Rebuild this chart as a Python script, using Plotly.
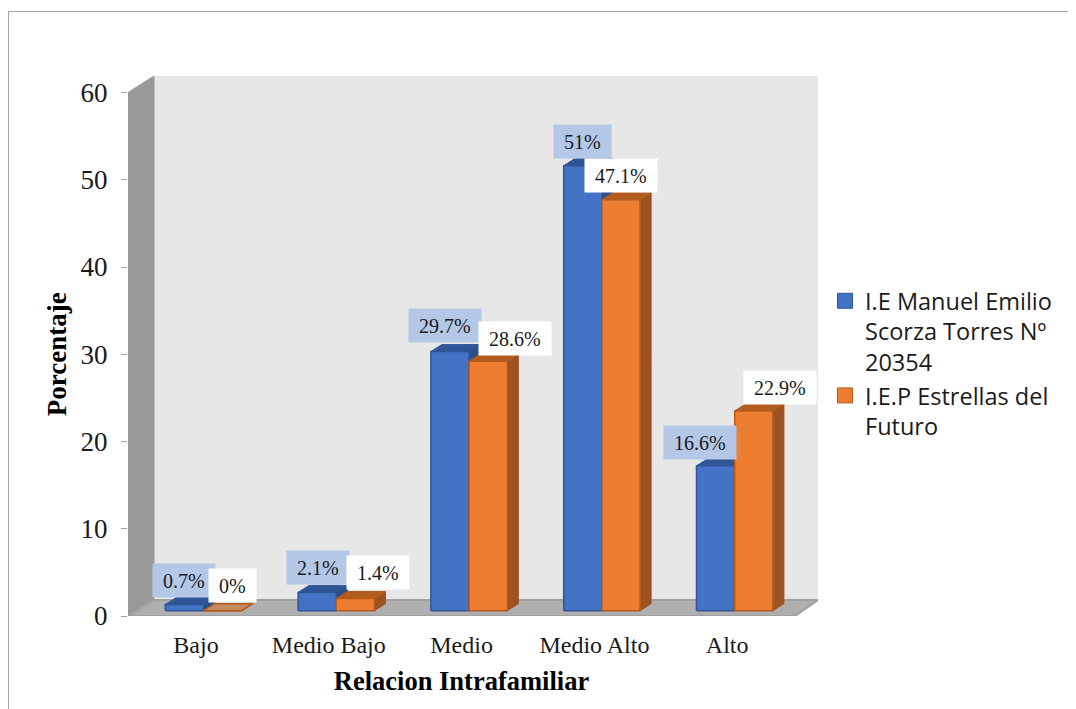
import plotly.graph_objects as go

categories = ["Bajo", "Medio Bajo", "Medio", "Medio Alto", "Alto"]
school_a = [0.7, 2.1, 29.7, 51, 16.6]
school_b = [0, 1.4, 28.6, 47.1, 22.9]
name_a = "I.E Manuel Emilio<br>Scorza Torres Nº<br>20354"
name_b = "I.E.P Estrellas del<br>Futuro"
y_ticks = [0, 10, 20, 30, 40, 50, 60]

# label nudges in pixels, hand placed in the reference
label_dx_a = [0, 1, -5.5, 0, -15.5]
label_dx_b = [10, 23, 27, 0, 26]
label_dy_a = [24, 25, 26, 24, 23]
label_dy_b = [25, 25.5, 23, 24, 23]

OFF = 8                                 # default page margin of the html body
W, H = 1076 - OFF, 709 - OFF
L, R, T, B = 128 - OFF, 818 - OFF, 76 - OFF, 616 - OFF   # drawing box in pixels
FRONT_R = 795 - OFF                     # end of the front edge of the floor
FRONT_T = 92.5 - OFF                    # height of 60 on the front edge
CAT_PX = 132.8                          # pixels per category
Y_PX = (B - FRONT_T) / 60               # pixels per percent
X0 = -(196 - OFF - L) / CAT_PX
X1 = X0 + (FRONT_R - L) / CAT_PX
BACK_R = X0 + (R - L) / CAT_PX
Y1 = (B - T) / Y_PX
WALL_DX = 26 / CAT_PX
WALL_DY = 16 / Y_PX
BAR_W = 38.2 / CAT_PX
BAR_SHIFT = 7.5 / CAT_PX
BAR_BASE = 5.3 / Y_PX
DEPTH_X = 11 / CAT_PX
DEPTH_Y = 7 / Y_PX

SERIF = "Liberation Serif"


def polys(items):
    xs, ys = [], []
    for poly in items:
        xs += [p[0] for p in poly] + [poly[0][0], None]
        ys += [p[1] for p in poly] + [poly[0][1], None]
    return xs, ys


def face(items, fill, line=None, width=1):
    xs, ys = polys(items)
    return go.Scatter(x=xs, y=ys, xaxis="x2", yaxis="y2", mode="lines", fill="toself",
                      fillcolor=fill, line=dict(color=line or fill, width=width),
                      hoverinfo="skip", showlegend=False)


def bar_faces(values, sign):
    front, top, side = [], [], []
    for i, v in enumerate(values):
        c = i + BAR_SHIFT
        a, b = (c - BAR_W, c) if sign < 0 else (c, c + BAR_W)
        lo, hi = BAR_BASE, BAR_BASE + v
        front.append([(a, lo), (b, lo), (b, hi), (a, hi)])
        top.append([(a, hi), (b, hi), (b + DEPTH_X, hi + DEPTH_Y), (a + DEPTH_X, hi + DEPTH_Y)])
        side.append([(b, lo), (b + DEPTH_X, lo + DEPTH_Y), (b + DEPTH_X, hi + DEPTH_Y), (b, hi)])
    return front, top, side


fig = go.Figure()

# holds the visible axes, which carry the ticks and the titles
fig.add_trace(go.Scatter(x=list(range(len(categories))), y=school_a, xaxis="x", yaxis="y",
                         mode="none", hoverinfo="skip", showlegend=False))

# walls and floor
fig.add_trace(face([[(X0 + WALL_DX, WALL_DY), (BACK_R, WALL_DY), (BACK_R, Y1), (X0 + WALL_DX, Y1)]], "#E7E7E7"))
fig.add_trace(face([[(X0, 0), (X0 + WALL_DX, WALL_DY), (X0 + WALL_DX, Y1), (X0, 60)]], "#999999"))
fig.add_trace(face([[(X0, 0), (X1, 0), (BACK_R, WALL_DY), (X0 + WALL_DX, WALL_DY)]], "#AFAFAF", "#A0A0A0", 2))

for values, sign, main, dark, darker in [(school_a, -1, "#4472C4", "#2F5597", "#2B4E8C"),
                                         (school_b, 1, "#ED7D31", "#B35C1E", "#9C5221")]:
    front, top, side = bar_faces(values, sign)
    flat = [t for t, v in zip(top, values) if v == 0]
    raised = [t for t, v in zip(top, values) if v != 0]
    fig.add_trace(face(side, darker))
    fig.add_trace(face(raised, dark))
    if flat:
        fig.add_trace(face(flat, "#C48A5F", dark, 1.5))
    fig.add_trace(face(front, main, dark, 1.5))

# legend entries
for name, main, dark in [(name_a, "#4472C4", "#2F5597"), (name_b, "#ED7D31", "#B35C1E")]:
    fig.add_trace(go.Scatter(x=[None], y=[None], xaxis="x2", yaxis="y2", mode="markers", name=name,
                             marker=dict(symbol="square", size=15, color=main,
                                         line=dict(color=dark, width=1))))

# data labels
annotations = []
for values, sign, bg, dxs, dys in [(school_a, -1, "#B4C7E7", label_dx_a, label_dy_a),
                                   (school_b, 1, "#FFFFFF", label_dx_b, label_dy_b)]:
    for i, v in enumerate(values):
        text = f"{v:g}%"
        em = sum(0.25 if ch == "." else 0.833 if ch == "%" else 0.5 for ch in text)
        annotations.append(dict(
            x=i + BAR_SHIFT + sign * BAR_W / 2, y=BAR_BASE + v, xref="x2", yref="y2",
            xshift=dxs[i], yshift=dys[i],
            text=text, showarrow=False, xanchor="center", yanchor="middle",
            width=em * 20 + 20, height=33, bgcolor=bg, borderpad=0,
            font=dict(family=SERIF, size=20, color="#1a1a1a")))

border = dict(type="line", xref="paper", yref="paper",
              line=dict(color="#A6A6A6", width=1))


def px(x):
    return (x - OFF - L) / (R - L)


def py(y):
    return (B - (y - OFF)) / (B - T)


fig.update_layout(
    width=W, height=H, autosize=False,
    margin=dict(l=L, r=W - R, t=T, b=H - B),
    paper_bgcolor="white", plot_bgcolor="rgba(0,0,0,0)",
    showlegend=True,
    legend=dict(x=px(825), y=py(279), xanchor="left", yanchor="top", valign="top",
                font=dict(family="Open Sans", size=23.5, color="#1a1a1a"),
                bgcolor="rgba(0,0,0,0)", itemwidth=30, tracegroupgap=0),
    # visible axes: they end at the front edge of the box
    xaxis=dict(domain=[0, (FRONT_R - L) / (R - L)], range=[X0, X1], anchor="y",
               tickvals=list(range(len(categories))), ticktext=categories,
               showgrid=False, zeroline=False, showline=False, ticks="", ticklabelstandoff=12,
               tickfont=dict(family=SERIF, size=24, color="#1a1a1a"),
               title=dict(text="<b>Relacion Intrafamiliar</b>", standoff=14,
                          font=dict(family=SERIF, size=26.5, color="#000000"))),
    yaxis=dict(domain=[0, (B - FRONT_T) / (B - T)], range=[0, 60], anchor="x",
               tickvals=y_ticks, showgrid=False, zeroline=False,
               showline=False, ticks="outside", ticklen=6, tickcolor="#A6A6A6",
               ticklabelstandoff=8,
               tickfont=dict(family=SERIF, size=27, color="#1a1a1a"),
               title=dict(text="<b>Porcentaje</b>", standoff=6,
                          font=dict(family=SERIF, size=27, color="#000000"))),
    # hidden axes of the whole box, walls and depth included
    xaxis2=dict(domain=[0, 1], range=[X0, BACK_R], anchor="y2", visible=False),
    yaxis2=dict(domain=[0, 1], range=[0, Y1], anchor="x2", visible=False),
    annotations=annotations,
    shapes=[dict(border, x0=px(8), x1=px(1076), y0=py(11.5), y1=py(11.5)),
            dict(border, x0=px(8.5), x1=px(8.5), y0=py(11.5), y1=py(709))],
)

fig.write_html("out.html")
